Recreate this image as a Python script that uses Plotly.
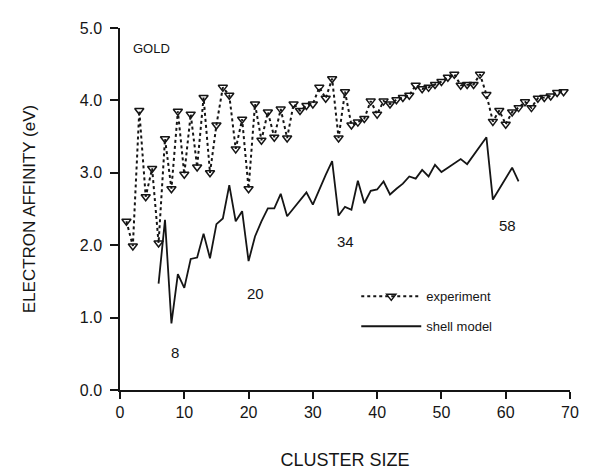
import plotly.graph_objects as go

# Experimental electron affinities (eV) for Au_n, n = 1..69
exp_size = list(range(1, 70))
exp_ea = [2.33, 1.99, 3.86, 2.67, 3.06, 2.03, 3.47, 2.78, 3.85, 2.98,
          3.81, 3.08, 4.04, 3.00, 3.66, 4.18, 4.07, 3.33, 3.74, 2.78,
          3.95, 3.45, 3.84, 3.49, 3.88, 3.48, 3.95, 3.86, 3.93, 3.95,
          4.18, 4.03, 4.30, 3.48, 4.12, 3.66, 3.70, 3.75, 3.99, 3.81,
          3.99, 3.95, 4.01, 4.04, 4.07, 4.21, 4.16, 4.18, 4.22, 4.26,
          4.32, 4.36, 4.21, 4.22, 4.22, 4.36, 4.08, 3.71, 3.86, 3.67,
          3.84, 3.90, 3.98, 3.90, 4.03, 4.04, 4.06, 4.11, 4.12]

# Shell model electron affinities (eV), n = 6..62
shell_size = list(range(6, 63))
shell_ea = [1.47, 2.35, 0.92, 1.60, 1.41, 1.81, 1.83, 2.16, 1.82, 2.29,
            2.37, 2.83, 2.33, 2.47, 1.78, 2.12, 2.33, 2.51, 2.51, 2.71,
            2.40, 2.51, 2.62, 2.73, 2.56, 2.77, 2.97, 3.16, 2.41, 2.53,
            2.49, 2.89, 2.58, 2.75, 2.77, 2.88, 2.70, 2.78, 2.85, 2.95,
            2.92, 3.04, 2.95, 3.11, 3.01, 3.07, 3.13, 3.19, 3.12, 3.24,
            3.37, 3.49, 2.63, 2.78, 2.92, 3.07, 2.88]

x_ticks = [0, 10, 20, 30, 40, 50, 60, 70]
y_ticks = [0.0, 1.0, 2.0, 3.0, 4.0, 5.0]
y_tick_text = ["0.0", "1.0", "2.0", "3.0", "4.0", "5.0"]

magic_sizes = ["8", "20", "34", "58"]
magic_x = [8.6, 21.0, 35.0, 60.3]
magic_y = [0.52, 1.33, 2.05, 2.27]

ink = "#151515"
font_family = "Liberation Sans, Arial, sans-serif"

fig = go.Figure()
fig.add_trace(go.Scatter(
    x=exp_size, y=exp_ea, mode="lines+markers", name="experiment",
    line=dict(color=ink, width=2, dash="dot"),
    marker=dict(symbol="triangle-down-open", size=8, color=ink,
                line=dict(width=1.5, color=ink)),
    legendgroup="a",
))
fig.add_trace(go.Scatter(
    x=shell_size, y=shell_ea, mode="lines", name="shell model",
    line=dict(color=ink, width=1.8),
    legendgroup="b",
))

for t, xx, yy in zip(magic_sizes, magic_x, magic_y):
    fig.add_annotation(x=xx, y=yy, text=t, showarrow=False,
                       font=dict(size=15, color=ink, family=font_family))
fig.add_annotation(x=1.7, y=4.72, text="GOLD", showarrow=False, xanchor="left",
                   font=dict(size=13, color=ink, family=font_family))

fig.update_layout(
    width=596, height=473,
    margin=dict(l=112, r=34, t=17, b=91),
    paper_bgcolor="white", plot_bgcolor="white",
    font=dict(family=font_family, color=ink, size=14),
    legend=dict(x=0.525, y=0.30, xanchor="left", yanchor="top",
                bgcolor="rgba(0,0,0,0)", tracegroupgap=10,
                itemwidth=60, font=dict(size=13)),
    xaxis=dict(range=[0, 70], tickvals=x_ticks, ticks="outside",
               ticklen=7, tickwidth=1.5, tickcolor=ink, showline=True,
               linecolor=ink, linewidth=1.5, showgrid=False, zeroline=False,
               title=dict(text="CLUSTER SIZE", standoff=33,
                          font=dict(size=18)),
               tickfont=dict(size=16)),
    yaxis=dict(range=[0, 5], tickvals=y_ticks, ticktext=y_tick_text,
               ticks="outside", ticklen=8, tickwidth=1.5, tickcolor=ink,
               ticklabelstandoff=5,
               showline=True, linecolor=ink, linewidth=1.5, showgrid=False,
               zeroline=False,
               title=dict(text="ELECTRON AFFINITY (eV)", standoff=40,
                          font=dict(size=17)),
               tickfont=dict(size=16)),
)

fig.write_html("out.html")
